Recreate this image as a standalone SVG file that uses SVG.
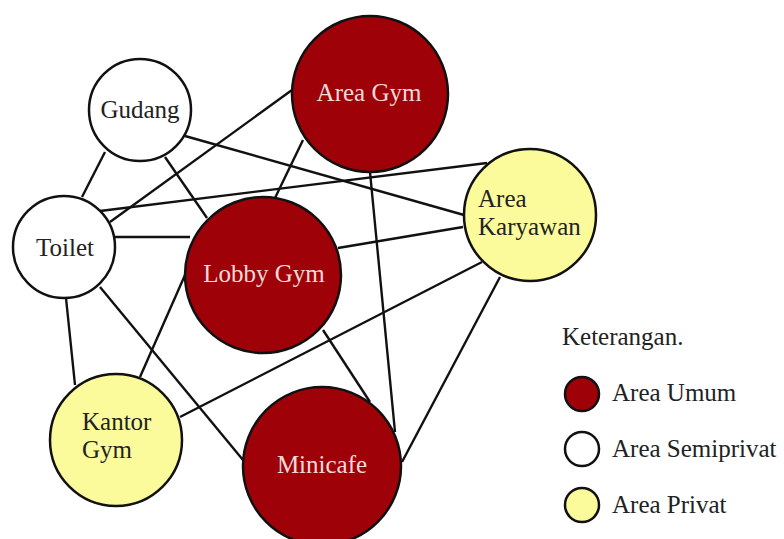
<svg xmlns="http://www.w3.org/2000/svg" width="784" height="539" viewBox="0 0 784 539">
<style>
.edge{stroke:#111;stroke-width:2.4;fill:none}
.node{stroke:#111;stroke-width:2.5}
.umum{fill:#9e0208}
.semi{fill:#ffffff}
.privat{fill:#fbfb9c}
text{font-family:"Liberation Serif","Times New Roman",serif;font-size:25px}
.dark{fill:#222}
.light{fill:#f6dada}
.mid{text-anchor:middle}
</style>
<rect width="784" height="539" fill="#fff"/>
<g id="connectors">
<line class="edge" x1="105" y1="152" x2="82" y2="197"/>
<line class="edge" x1="165" y1="157" x2="207" y2="218"/>
<line class="edge" x1="185" y1="136" x2="464" y2="215"/>
<line class="edge" x1="110" y1="222" x2="292" y2="90"/>
<line class="edge" x1="100" y1="211" x2="487" y2="163"/>
<line class="edge" x1="115" y1="237" x2="190" y2="237"/>
<line class="edge" x1="66" y1="298" x2="75" y2="385"/>
<line class="edge" x1="100" y1="287" x2="243" y2="460"/>
<line class="edge" x1="303" y1="140" x2="275" y2="198"/>
<line class="edge" x1="370" y1="172" x2="395" y2="432"/>
<line class="edge" x1="338" y1="248" x2="463" y2="227"/>
<line class="edge" x1="185" y1="275" x2="140" y2="377"/>
<line class="edge" x1="323" y1="330" x2="370" y2="402"/>
<line class="edge" x1="180" y1="417" x2="482" y2="262"/>
<line class="edge" x1="500" y1="277" x2="402" y2="462"/>
</g>
<g id="gudang">
<circle class="node semi" cx="140" cy="110" r="51"/>
<text class="dark mid" x="140" y="118">Gudang</text>
</g>
<g id="area-gym">
<circle class="node umum" cx="370" cy="94" r="78"/>
<text class="light mid" x="369" y="101">Area Gym</text>
</g>
<g id="toilet">
<circle class="node semi" cx="64" cy="247" r="51"/>
<text class="dark mid" x="65" y="256">Toilet</text>
</g>
<g id="lobby-gym">
<circle class="node umum" cx="263" cy="275" r="78"/>
<text class="light mid" x="264" y="282">Lobby Gym</text>
</g>
<g id="area-karyawan">
<circle class="node privat" cx="530" cy="215" r="66"/>
<text class="dark" x="478" y="207">Area</text>
<text class="dark" x="478" y="235">Karyawan</text>
</g>
<g id="kantor-gym">
<circle class="node privat" cx="116" cy="440" r="66"/>
<text class="dark" x="82" y="430">Kantor</text>
<text class="dark" x="82" y="458">Gym</text>
</g>
<g id="minicafe">
<circle class="node umum" cx="322" cy="466" r="79"/>
<text class="light mid" x="322" y="473">Minicafe</text>
</g>
<g id="legend">
<text class="dark" x="562" y="345">Keterangan.</text>
<circle class="node umum" cx="582" cy="394" r="17"/>
<text class="dark" x="612" y="401">Area Umum</text>
<circle class="node semi" cx="582" cy="449" r="17"/>
<text class="dark" x="612" y="457">Area Semiprivat</text>
<circle class="node privat" cx="582" cy="505" r="17"/>
<text class="dark" x="612" y="513">Area Privat</text>
</g>
</svg>
